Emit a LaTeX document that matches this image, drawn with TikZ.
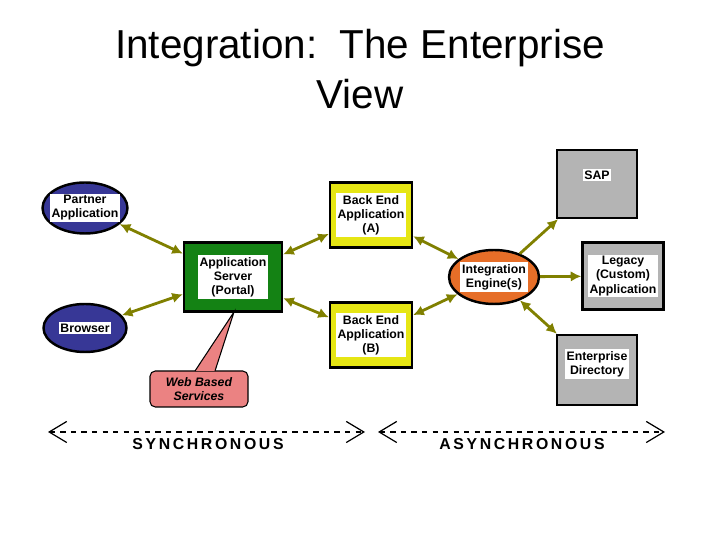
\documentclass[tikz,border=0pt]{standalone}
\usepackage{fontspec}
\setmainfont{Liberation Sans}
\usetikzlibrary{shapes, arrows.meta}
\definecolor{olivearr}{RGB}{128,128,0}
\definecolor{bluenode}{RGB}{55,55,150}
\definecolor{greennode}{RGB}{20,130,20}
\definecolor{yellownode}{RGB}{230,230,20}
\definecolor{orangenode}{RGB}{230,110,40}
\definecolor{greynode}{RGB}{180,180,180}
\definecolor{pinknode}{RGB}{235,130,130}
\tikzset{
  lbl/.style={fill=white, inner sep=1pt, align=center, font=\fontsize{7}{8}\selectfont\bfseries},
  link/.style={olivearr, line width=1.6pt, {Latex[length=6pt,width=6pt]}-{Latex[length=6pt,width=6pt]}},
  onelink/.style={olivearr, line width=1.6pt, -{Latex[length=6pt,width=6pt]}},
  span/.style={dashed, line width=0.7pt, {Straight Barb[length=10pt,width=12pt]}-{Straight Barb[length=10pt,width=12pt]}}
}
\begin{document}
\begin{tikzpicture}
\useasboundingbox (0,0) rectangle (14.4,10.8);
\node[font=\fontsize{23}{28}\selectfont, align=center] (title) at (7.2,9.42) {Integration:\ \ The Enterprise\\View};

\node[ellipse, draw=black, line width=1.4pt, fill=bluenode, minimum width=1.7cm, minimum height=1.02cm] (pa) at (1.7,6.64) {};
\node[lbl] at (pa) {Partner\\Application};
\node[ellipse, draw=black, line width=1.4pt, fill=bluenode, minimum width=1.66cm, minimum height=0.96cm] (br) at (1.7,4.24) {};
\node[lbl] at (br) {Browser};
\node[rectangle, draw=black, line width=1.4pt, fill=greennode, minimum width=1.96cm, minimum height=1.38cm] (as) at (4.66,5.26) {};
\node[lbl] at (as) {Application\\Server\\(Portal)};
\node[rectangle, draw=black, line width=1.4pt, fill=yellownode, minimum width=1.64cm, minimum height=1.3cm] (ba) at (7.42,6.5) {};
\node[lbl] at (ba) {Back End\\Application\\(A)};
\node[rectangle, draw=black, line width=1.4pt, fill=yellownode, minimum width=1.64cm, minimum height=1.3cm] (bb) at (7.42,4.1) {};
\node[lbl] at (bb) {Back End\\Application\\(B)};
\node[ellipse, draw=black, line width=1.4pt, fill=orangenode, minimum width=1.8cm, minimum height=1.08cm] (ie) at (9.88,5.26) {};
\node[lbl] at (ie) {Integration\\Engine(s)};
\node[rectangle, draw=black, line width=1.4pt, fill=greynode, minimum width=1.6cm, minimum height=1.36cm] (sap) at (11.94,7.12) {};
\node[lbl] at ([yshift=0.18cm]sap.center) {SAP};
\node[rectangle, draw=black, line width=1.4pt, fill=greynode, minimum width=1.62cm, minimum height=1.34cm] (lg) at (12.46,5.28) {};
\node[lbl] at (lg) {Legacy\\(Custom)\\Application};
\node[rectangle, draw=black, line width=1.4pt, fill=greynode, minimum width=1.6cm, minimum height=1.4cm] (ed) at (11.94,3.4) {};
\node[lbl] at ([yshift=0.12cm]ed.center) {Enterprise\\Directory};

\coordinate (tip) at (4.68,4.56);
\draw[fill=pinknode, line width=0.6pt, rounded corners=3pt] (3.0,2.66) rectangle (4.96,3.38);
\draw[fill=pinknode, line width=0.6pt] (3.9,3.38) -- (tip) -- (4.3,3.38);
\node[font=\fontsize{7}{8}\selectfont\bfseries\itshape, align=center] (wbs) at (3.98,3.02) {Web Based\\Services};

\draw[link] (pa) -- (as);
\draw[link] (br) -- (as);
\draw[link] (as) -- (ba);
\draw[link] (as) -- (bb);
\draw[link] (ba) -- (ie);
\draw[link] (bb) -- (ie);
\draw[onelink] (ie) -- (sap);
\draw[onelink] (ie) -- (lg);
\draw[link] (ie) -- (ed);

\coordinate (s1) at (0.96,2.16);
\coordinate (s2) at (7.3,2.16);
\coordinate (a1) at (7.56,2.16);
\coordinate (a2) at (13.3,2.16);
\draw[span] (s1) -- (s2);
\draw[span] (a1) -- (a2);
\node[font=\fontsize{9}{10}\selectfont\bfseries] (sync) at (4.16,1.92) {S\,Y\,N\,C\,H\,R\,O\,N\,O\,U\,S};
\node[font=\fontsize{9}{10}\selectfont\bfseries] (async) at (10.44,1.92) {A\,S\,Y\,N\,C\,H\,R\,O\,N\,O\,U\,S};
\end{tikzpicture}
\end{document}
